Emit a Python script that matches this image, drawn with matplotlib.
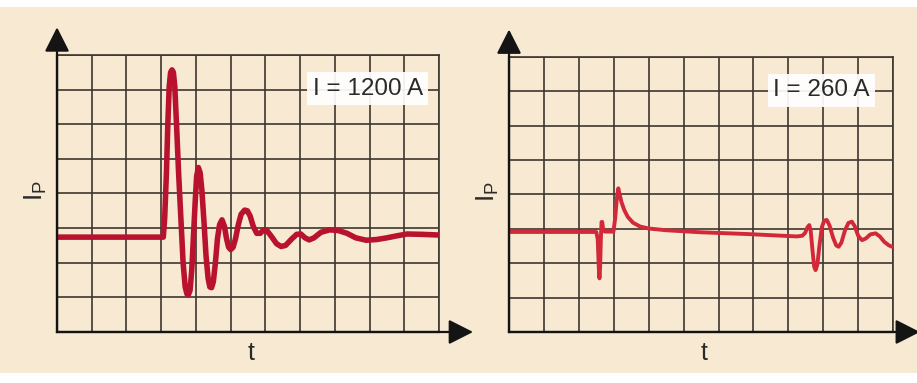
import matplotlib
matplotlib.use("Agg")
import matplotlib.pyplot as plt
from matplotlib.patches import Rectangle

# Left panel: I = 1200 A (grid units: 11 columns x 8 rows)
t_1200 = [0.00, 3.06, 3.10, 3.15, 3.19, 3.23, 3.27, 3.31, 3.35, 3.39, 3.44,
          3.50, 3.57, 3.63, 3.69, 3.74, 3.78, 3.83, 3.88, 3.93, 3.98, 4.02,
          4.07, 4.12, 4.17, 4.23, 4.29, 4.35, 4.40, 4.45, 4.50, 4.56, 4.62,
          4.68, 4.75, 4.82, 4.88, 4.94, 5.00, 5.07, 5.14, 5.22, 5.30, 5.40,
          5.48, 5.56, 5.65, 5.75, 5.85, 5.95, 6.05, 6.18, 6.32, 6.45, 6.58,
          6.75, 6.90, 7.02, 7.14, 7.26, 7.40, 7.60, 7.85, 8.10, 8.35, 8.60,
          8.90, 9.20, 9.50, 9.80, 10.08, 10.50, 11.00]
ip_1200 = [2.74, 2.74, 3.30, 4.60, 6.00, 7.10, 7.50, 7.57, 7.50, 7.10, 6.00,
           4.60, 3.20, 2.00, 1.30, 1.10, 1.07, 1.20, 1.80, 2.80, 3.80, 4.50,
           4.75, 4.60, 4.10, 3.20, 2.20, 1.55, 1.30, 1.28, 1.45, 2.00, 2.70,
           3.10, 3.24, 3.05, 2.70, 2.45, 2.38, 2.45, 2.70, 3.10, 3.40, 3.52,
           3.50, 3.35, 3.05, 2.85, 2.85, 2.95, 2.92, 2.75, 2.55, 2.47, 2.50,
           2.68, 2.82, 2.83, 2.72, 2.66, 2.72, 2.88, 2.95, 2.93, 2.85, 2.72,
           2.65, 2.67, 2.72, 2.78, 2.83, 2.82, 2.80]

# Right panel: I = 260 A
t_260 = [0.00, 2.50, 2.54, 2.57, 2.59, 2.61, 2.63, 2.65, 2.67, 2.70, 2.75,
         2.99, 3.04, 3.09, 3.13, 3.17, 3.22, 3.30, 3.40, 3.55, 3.75, 4.00,
         4.50, 5.50, 6.81, 8.24, 8.40, 8.48, 8.55, 8.60, 8.64, 8.69, 8.74,
         8.78, 8.83, 8.89, 8.96, 9.03, 9.10, 9.18, 9.28, 9.37, 9.44, 9.52,
         9.62, 9.72, 9.82, 9.90, 10.00, 10.11, 10.22, 10.35, 10.50, 10.62,
         10.75, 10.88, 10.97]
ip_260 = [2.91, 2.91, 2.70, 1.90, 1.56, 1.90, 2.70, 3.20, 3.20, 2.95, 2.92,
          2.92, 3.30, 3.90, 4.18, 4.00, 3.78, 3.55, 3.35, 3.18, 3.07, 3.01,
          2.96, 2.90, 2.85, 2.78, 2.80, 2.88, 3.05, 3.11, 2.95, 2.40, 1.90,
          1.80, 1.95, 2.50, 3.05, 3.24, 3.26, 3.10, 2.75, 2.52, 2.48, 2.60,
          2.95, 3.17, 3.21, 3.08, 2.80, 2.67, 2.72, 2.84, 2.87, 2.78, 2.62,
          2.52, 2.48]

labels = ["I = 1200 A", "I = 260 A"]

BG = "#f8ead2"
GRID = "#3d3731"
AXIS = "#141414"

plt.rcParams['font.family'] = ['Liberation Sans', 'DejaVu Sans']
plt.rcParams['mathtext.fontset'] = 'custom'
plt.rcParams['mathtext.rm'] = 'Liberation Sans'
plt.rcParams['mathtext.it'] = 'Liberation Sans'


def draw_panel(ax, t, ip, label, color, lw, arrow_x):
    """Draw one oscilloscope-like panel with grid, arrows and label."""
    ax.set_facecolor(BG)
    ax.set_xlim(0, 11)
    ax.set_ylim(0, 8)
    ax.set_xticks(range(12))
    ax.set_yticks(range(9))
    ax.tick_params(length=0, labelbottom=False, labelleft=False)
    ax.grid(True, color=GRID, lw=1.2)

    for side in ['top', 'right']:
        ax.spines[side].set_color(GRID)
        ax.spines[side].set_linewidth(1.2)
    for side in ['left', 'bottom']:
        ax.spines[side].set_color(AXIS)
        ax.spines[side].set_linewidth(1.6)

    # signal
    ax.plot(t, ip, color=color, lw=lw, solid_joinstyle='round',
            solid_capstyle='round', zorder=3)

    # axis arrows
    arrow = dict(arrowstyle='-|>,head_length=0.75,head_width=0.38',
                 color=AXIS, lw=1.6, shrinkA=0, shrinkB=0, mutation_scale=20)
    ax.annotate('', xy=(0, 1.10), xytext=(0, 0), xycoords='axes fraction',
                textcoords='axes fraction', arrowprops=arrow,
                annotation_clip=False)
    ax.annotate('', xy=(arrow_x, 0), xytext=(0, 0), xycoords='axes fraction',
                textcoords='axes fraction', arrowprops=arrow,
                annotation_clip=False)

    # current label box
    ax.text(8.95, 7.03, label, ha='center', va='center', fontsize=17.5,
            color='#2a2a2a', zorder=5,
            bbox=dict(boxstyle='square,pad=0.22', fc='white', ec='none',
                      alpha=0.92))

    # axis titles
    ax.text(5.6, -0.6, 't', ha='center', va='center', fontsize=18,
            color='#2a2a2a', clip_on=False)
    ax.text(-0.056, 0.51, r'$\mathregular{I_P}$', transform=ax.transAxes,
            rotation=90, ha='center', va='center', fontsize=19,
            color='#2a2a2a')


fig = plt.figure(figsize=(9.17, 3.83), dpi=100, facecolor='white')
fig.patches.append(Rectangle((0, 0.026), 1, 0.956, transform=fig.transFigure,
                             fc=BG, ec='none', zorder=-10))

ax1 = fig.add_axes([0.0622, 0.1332, 0.4166, 0.7232])
ax2 = fig.add_axes([0.5551, 0.1332, 0.4188, 0.7180])

draw_panel(ax1, t_1200, ip_1200, labels[0], '#b9122f', 4.0, 1.089)
draw_panel(ax2, t_260, ip_260, labels[1], '#d2283a', 2.8, 1.07)

fig.savefig('out.png', dpi=100, facecolor=fig.get_facecolor())
